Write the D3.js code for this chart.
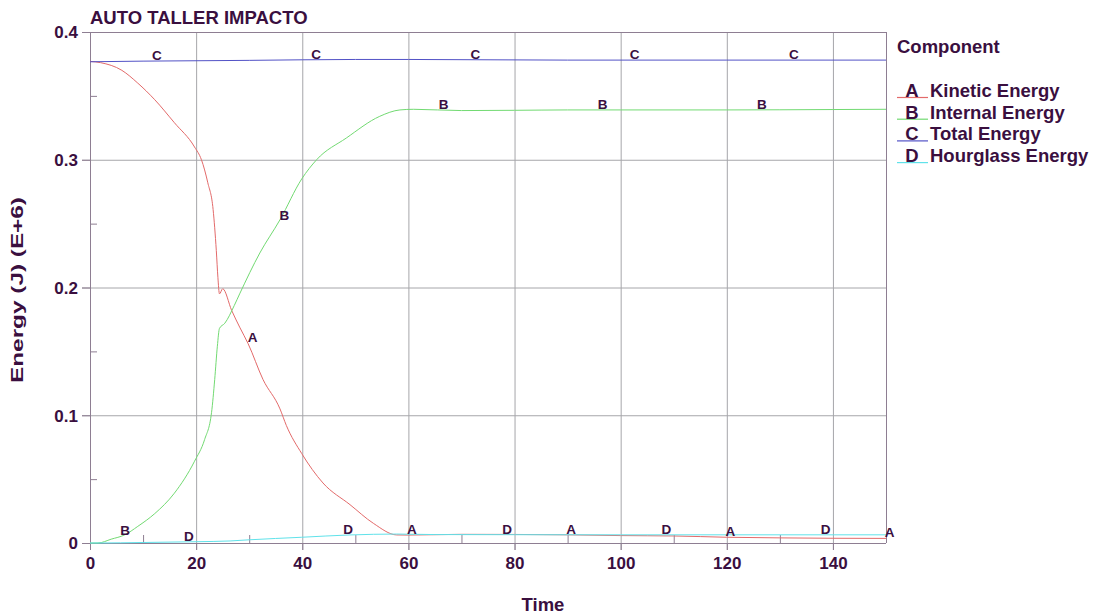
<html>
<head>
<meta charset="utf-8">
<script src="https://d3js.org/d3.v7.min.js"></script>
<style>
  body { margin: 0; background: #fff; }
  svg text { font-family: "Liberation Sans", Arial, sans-serif; font-weight: bold; fill: #3a0f3f; }
</style>
</head>
<body>
<svg width="1097" height="616"></svg>
<script>
// time / energy readings (J, E+6)
const kinT = [0, 2, 6, 9, 12.2, 15.9, 19.7, 21, 22.2, 23.2, 23.8, 24.1, 24.4, 25.0, 26.7, 28.2, 29.8, 32.6, 35.8, 37.0, 39.9, 43.9, 49.0, 53.4, 57.8, 60, 70, 80, 90, 100, 110, 120, 130, 140, 150];
const kinE = [0.377, 0.376, 0.370, 0.360, 0.347, 0.329, 0.310, 0.300, 0.282, 0.261, 0.229, 0.208, 0.195, 0.199, 0.182, 0.169, 0.156, 0.128, 0.105, 0.092, 0.070, 0.047, 0.030, 0.0154, 0.0063, 0.0062, 0.0068, 0.0067, 0.0064, 0.0058, 0.0055, 0.0045, 0.0040, 0.0037, 0.0036];

const intT = [0, 1.5, 4, 6.5, 9, 12.2, 15.9, 19.7, 21.6, 22.9, 23.5, 24.0, 24.4, 25.4, 27.2, 28.2, 32.0, 35.8, 39.9, 42.7, 48.3, 54.6, 58.4, 61, 70, 80, 90, 100, 120, 140, 150];
const intE = [0, 0, 0.003, 0.0063, 0.013, 0.023, 0.039, 0.064, 0.081, 0.102, 0.128, 0.154, 0.168, 0.172, 0.186, 0.195, 0.227, 0.253, 0.285, 0.300, 0.317, 0.334, 0.339, 0.3395, 0.3385, 0.3387, 0.339, 0.339, 0.339, 0.3393, 0.3395];

const totT = [0, 10, 30, 50, 60, 90, 120, 150];
const totE = [0.3767, 0.3772, 0.3778, 0.3785, 0.3785, 0.378, 0.378, 0.378];

const hgT = [0, 1.5, 10, 20, 26.4, 30, 39.9, 49, 57.8, 65, 80, 100, 120, 150];
const hgE = [0, 0, 0.0004, 0.0010, 0.0016, 0.0025, 0.0045, 0.0063, 0.0070, 0.0066, 0.0065, 0.0064, 0.0064, 0.0064];

const letters = ["A", "B", "C", "D"];
const names = ["Kinetic Energy", "Internal Energy", "Total Energy", "Hourglass Energy"];
const colors = ["#e36a6a", "#72da72", "#5252c6", "#60e2ea"];
// first label position of each curve, repeated every 30
const labelStart = [29.75, 5.7, 11.7, 17.7];

const xTicks = [0, 20, 40, 60, 80, 100, 120, 140];
const yTicks = [0, 0.1, 0.2, 0.3, 0.4];

const series = [
  kinT.map((t, i) => ({t: t, e: kinE[i]})),
  intT.map((t, i) => ({t: t, e: intE[i]})),
  totT.map((t, i) => ({t: t, e: totE[i]})),
  hgT.map((t, i) => ({t: t, e: hgE[i]}))
];

const svg = d3.select("svg");
const pL = 90, pR = 886, pT = 32, pB = 543;
const x = d3.scaleLinear().domain([0, 150]).range([pL, pR]);
const y = d3.scaleLinear().domain([0, 0.4]).range([pB, pT]);

const gridColor = "#a6a6aa", axisColor = "#8e7e92";

// grid
svg.append("g").attr("transform", "translate(0," + (pB + 7) + ")")
  .call(d3.axisBottom(x).tickValues(xTicks.slice(1)).tickSize(-(pB + 7 - pT)).tickFormat(""))
  .call(g => g.select(".domain").remove())
  .selectAll("line").attr("stroke", gridColor);
svg.append("g").attr("transform", "translate(" + (pL - 8) + ",0)")
  .call(d3.axisLeft(y).tickValues([0.1, 0.2, 0.3]).tickSize(-(pR - pL + 8)).tickFormat(""))
  .call(g => g.select(".domain").remove())
  .selectAll("line").attr("stroke", gridColor);

// frame top / right
svg.append("line").attr("x1", pL - 8).attr("x2", pR).attr("y1", pT + 0.5).attr("y2", pT + 0.5).attr("stroke", axisColor);
svg.append("line").attr("x1", pR + 0.5).attr("x2", pR + 0.5).attr("y1", pT).attr("y2", pB).attr("stroke", axisColor);

// minor ticks
svg.append("g").attr("transform", "translate(0," + pB + ")")
  .call(d3.axisBottom(x).tickValues(d3.range(10, 150, 20)).tickSize(-8).tickFormat(""))
  .call(g => g.select(".domain").remove())
  .selectAll("line").attr("stroke", axisColor);
svg.append("g").attr("transform", "translate(" + pL + ",0)")
  .call(d3.axisLeft(y).tickValues([0.05, 0.15, 0.25, 0.35]).tickSize(-7).tickFormat(""))
  .call(g => g.select(".domain").remove())
  .selectAll("line").attr("stroke", axisColor);

// axes
const xAxis = svg.append("g").attr("transform", "translate(0," + pB + ")")
  .call(d3.axisBottom(x).tickValues(xTicks).tickSize(7).tickPadding(7).tickSizeOuter(0).tickFormat(d3.format("")));
const yAxis = svg.append("g").attr("transform", "translate(" + pL + ",0)")
  .call(d3.axisLeft(y).tickValues(yTicks).tickSize(8).tickPadding(4).tickSizeOuter(0).tickFormat(d3.format("")));
[xAxis, yAxis].forEach(a => {
  a.select(".domain").attr("stroke", axisColor);
  a.selectAll("line").attr("stroke", axisColor);
  a.selectAll("text").style("font-size", "17px").attr("fill", "#3a0f3f");
});
xAxis.select(".domain").attr("d", "M" + (pL - 8) + ",0.5H" + pR);
yAxis.selectAll(".tick text").attr("dy", "0.34em");

// curves
const line = d3.line().curve(d3.curveMonotoneX).x(d => x(d.t)).y(d => y(d.e));
svg.append("g").selectAll("path").data(series).join("path")
  .attr("d", line).attr("fill", "none")
  .attr("stroke", (d, i) => colors[i]).attr("stroke-width", 1);

// curve letters
const bis = d3.bisector(d => d.t).left;
function valueAt(s, t) {
  const i = Math.max(1, Math.min(s.length - 1, bis(s, t)));
  const a = s[i - 1], b = s[i];
  return a.e + (b.e - a.e) * (t - a.t) / (b.t - a.t);
}
const marks = [];
series.forEach((s, k) => {
  for (let t = labelStart[k]; t <= 150; t += 30) marks.push({k: k, t: t, e: valueAt(s, t)});
});
svg.append("g").selectAll("text").data(marks).join("text")
  .attr("x", d => x(d.t)).attr("y", d => y(d.e) - 1)
  .style("font-size", "13.5px").text(d => letters[d.k]);

// titles
svg.append("text").attr("x", 90).attr("y", 24).style("font-size", "18.5px").text("AUTO TALLER IMPACTO");
svg.append("text").attr("x", 543).attr("y", 611).attr("text-anchor", "middle").style("font-size", "18.5px").text("Time");
svg.append("text").attr("transform", "translate(23,290) rotate(-90)").attr("text-anchor", "middle")
  .attr("textLength", 186).attr("lengthAdjust", "spacingAndGlyphs")
  .style("font-size", "16.5px").text("Energy (J) (E+6)");

// legend
const lg = svg.append("g");
lg.append("text").attr("x", 897).attr("y", 53).style("font-size", "18.5px").text("Component");
const rows = lg.selectAll("g.row").data(letters).join("g").attr("class", "row")
  .attr("transform", (d, i) => "translate(0," + (97 + i * 21.7) + ")");
rows.append("line").attr("x1", 897).attr("x2", 928).attr("y1", 0.5).attr("y2", 0.5)
  .attr("stroke", (d, i) => colors[i]).attr("stroke-width", 1.2);
rows.append("text").attr("x", 912).attr("text-anchor", "middle").style("font-size", "18.5px").text(d => d);
rows.append("text").attr("x", 930).style("font-size", "18.5px").text((d, i) => names[i]);
</script>
</body>
</html>
